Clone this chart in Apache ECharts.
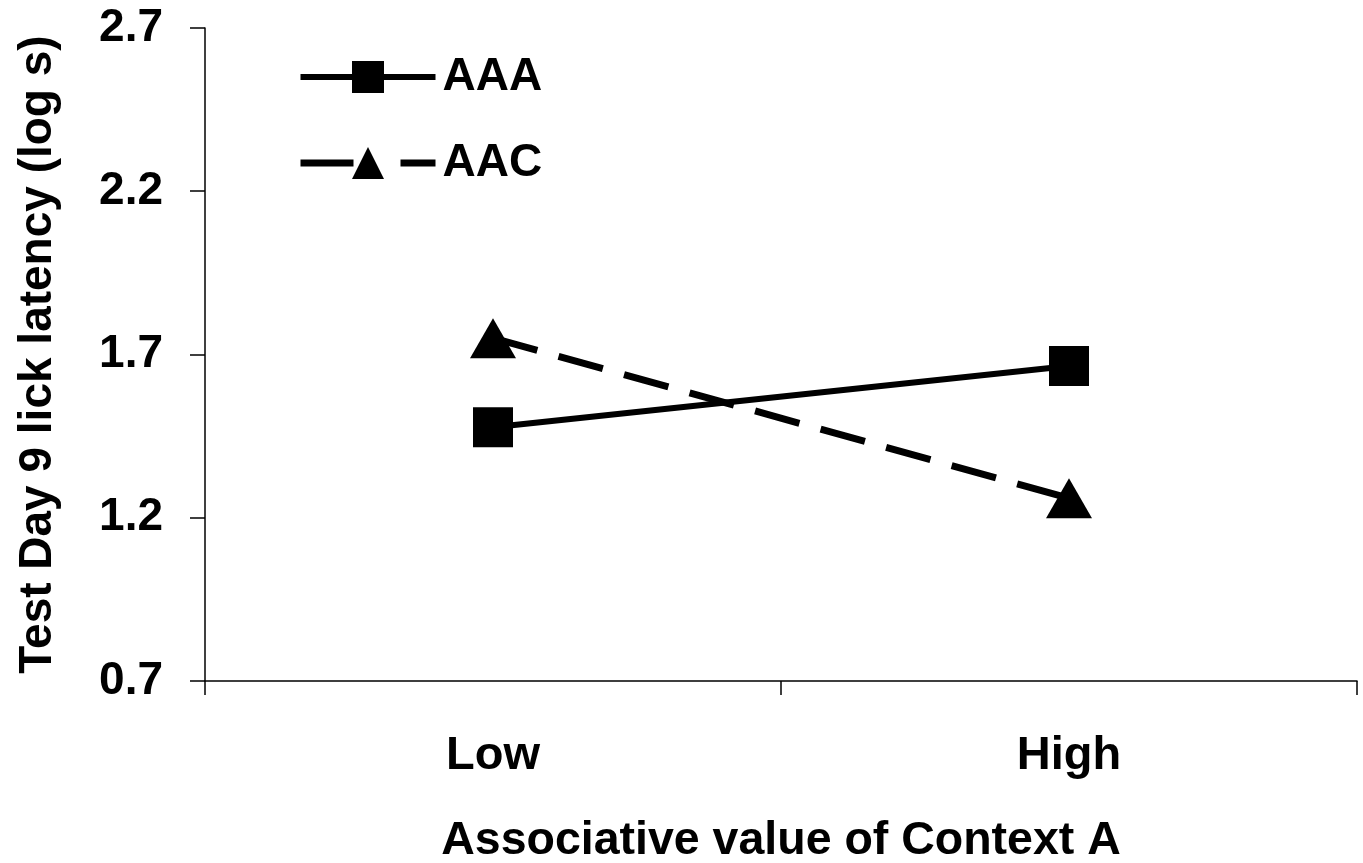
<!DOCTYPE html>
<html><head><meta charset="utf-8">
<script src="https://cdn.jsdelivr.net/npm/echarts@6/dist/echarts.min.js"></script>
<style>html,body{margin:0;padding:0;background:#fff}#c{width:1363px;height:863px}</style>
</head><body><div id="c"></div>
<script>
const categories = ['Low', 'High'];
const aaaValues = [1.477, 1.665];
const aacValues = [1.75, 1.26];
const yTicks = { min: 0.7, max: 2.7, interval: 0.5 };
const seriesNames = ['AAA', 'AAC'];

const font = '"Liberation Sans", Arial, sans-serif';
function hasFont(name) {
  const ctx = document.createElement('canvas').getContext('2d');
  const s = 'Associative value of Context A';
  ctx.font = 'bold 50px monospace';
  const w0 = ctx.measureText(s).width;
  ctx.font = 'bold 50px "' + name + '", monospace';
  return Math.abs(ctx.measureText(s).width - w0) > 1;
}
const narrow = hasFont('Liberation Sans Narrow');
const xNameStyle = narrow
  ? { fontFamily: '"Liberation Sans Narrow", sans-serif', fontWeight: 'bold', fontSize: 57, color: '#000' }
  : { fontFamily: font, fontWeight: 'bold', fontSize: 46.5, color: '#000' };

const chart = echarts.init(document.getElementById('c'));
chart.setOption({
  backgroundColor: '#fff',
  animation: false,
  grid: { left: 205, right: 6, top: 28, bottom: 182, outerBoundsMode: 'none', containLabel: false },
  legend: {
    orient: 'vertical', left: 292, top: 49,
    itemWidth: 135, itemHeight: 40, itemGap: 40,
    textStyle: { fontFamily: font, fontWeight: 'bold', fontSize: 46, color: '#000', padding: [0, 0, 0, 2] },
    data: [
      { name: seriesNames[0], lineStyle: { width: 6, color: '#000' } },
      { name: seriesNames[1], lineStyle: { width: 7, color: '#000', type: [53, 47] } }
    ]
  },
  xAxis: {
    type: 'category', data: categories, boundaryGap: true,
    axisLine: { lineStyle: { color: '#000', width: 1.5 } },
    axisTick: { show: true, length: 14, alignWithLabel: false, lineStyle: { color: '#000', width: 1.5 } },
    axisLabel: { margin: 52, fontFamily: font, fontWeight: 'bold', fontSize: 47, color: '#000' },
    name: 'Associative value of Context A', nameLocation: 'middle', nameGap: narrow ? 135 : 137,
    nameTextStyle: xNameStyle
  },
  yAxis: {
    type: 'value', min: yTicks.min, max: yTicks.max, interval: yTicks.interval,
    splitLine: { show: false },
    axisLine: { show: true, lineStyle: { color: '#000', width: 1.5 } },
    axisTick: { show: true, length: 15, lineStyle: { color: '#000', width: 1.5 } },
    axisLabel: { margin: 42, fontFamily: font, fontWeight: 'bold', fontSize: 46, color: '#000',
      formatter: v => v.toFixed(1) },
    name: 'Test Day 9 lick latency (log s)', nameLocation: 'middle', nameGap: 144, nameRotate: 90,
    nameTextStyle: { fontFamily: font, fontWeight: 'bold', fontSize: 46, color: '#000' }
  },
  series: [
    { name: seriesNames[0], type: 'line', data: aaaValues,
      symbol: 'rect', symbolSize: 40,
      itemStyle: { color: '#000' },
      lineStyle: { color: '#000', width: 6 } },
    { name: seriesNames[1], type: 'line', data: aacValues,
      symbol: 'triangle', symbolSize: [46, 40],
      itemStyle: { color: '#000' },
      lineStyle: { color: '#000', width: 7, type: [46, 22] } }
  ]
});
</script></body></html>
